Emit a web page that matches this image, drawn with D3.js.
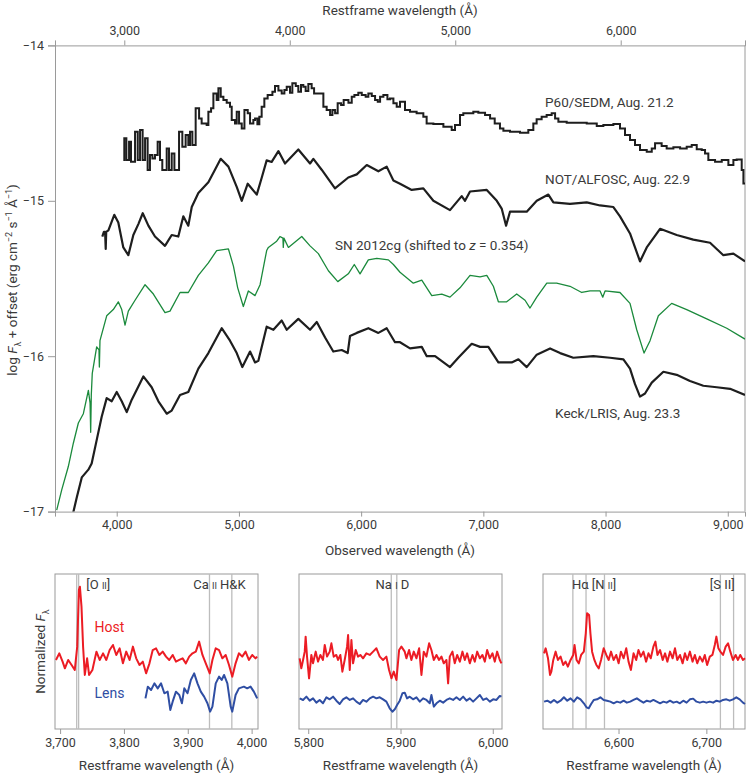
<!DOCTYPE html>
<html><head><meta charset="utf-8">
<script src="https://cdn.jsdelivr.net/npm/d3@7"></script>
<style>body{margin:0;background:#fff} text{font-family:Roboto,"Noto Sans",sans-serif;fill:#3a3a3a}</style>
</head><body><svg id="c" width="746" height="773"></svg>
<script>
// ---------- DATA ----------
const redshift = 0.354;
const obsTicks = [4000,5000,6000,7000,8000,9000];
const restTicks = [3000,4000,5000,6000];
const logTicks = [-17,-16,-15,-14];

const p60SEDM = [[4054,-14.738],[4062,-14.598],[4079,-14.738],[4101,-14.620],[4117,-14.749],[4150,-14.555],[4172,-14.738],[4191,-14.545],[4212,-14.738],[4232,-14.598],[4253,-14.802],[4272,-14.706],[4292,-14.727],[4313,-14.706],[4335,-14.620],[4354,-14.738],[4373,-14.802],[4409,-14.663],[4428,-14.802],[4450,-14.695],[4472,-14.802],[4510,-14.555],[4537,-14.652],[4564,-14.577],[4586,-14.641],[4600,-14.555],[4619,-14.641],[4646,-14.405],[4674,-14.470],[4695,-14.502],[4736,-14.512],[4750,-14.427],[4772,-14.405],[4791,-14.309],[4818,-14.352],[4832,-14.276],[4851,-14.330],[4873,-14.352],[4900,-14.369],[4927,-14.394],[4941,-14.480],[4968,-14.502],[4982,-14.427],[5001,-14.502],[5023,-14.534],[5045,-14.416],[5072,-14.437],[5091,-14.502],[5118,-14.480],[5132,-14.470],[5151,-14.508],[5167,-14.459],[5186,-14.394],[5208,-14.341],[5235,-14.319],[5274,-14.298],[5295,-14.261],[5323,-14.291],[5350,-14.309],[5372,-14.287],[5391,-14.266],[5418,-14.304],[5437,-14.244],[5465,-14.261],[5486,-14.298],[5508,-14.255],[5527,-14.266],[5546,-14.294],[5568,-14.249],[5595,-14.276],[5615,-14.309],[5691,-14.394],[5718,-14.416],[5746,-14.448],[5765,-14.416],[5787,-14.437],[5808,-14.373],[5836,-14.384],[5857,-14.352],[5896,-14.369],[5923,-14.330],[5945,-14.319],[5977,-14.304],[6005,-14.319],[6037,-14.330],[6059,-14.309],[6087,-14.326],[6114,-14.352],[6136,-14.362],[6155,-14.330],[6182,-14.319],[6215,-14.347],[6236,-14.341],[6264,-14.373],[6291,-14.394],[6318,-14.362],[6359,-14.416],[6400,-14.427],[6454,-14.437],[6509,-14.459],[6536,-14.502],[6591,-14.506],[6673,-14.523],[6741,-14.545],[6768,-14.512],[6809,-14.448],[6836,-14.437],[6877,-14.437],[6918,-14.427],[6959,-14.433],[7014,-14.448],[7055,-14.470],[7093,-14.502],[7136,-14.534],[7164,-14.549],[7218,-14.555],[7300,-14.562],[7368,-14.545],[7409,-14.502],[7436,-14.476],[7477,-14.459],[7518,-14.448],[7559,-14.437],[7587,-14.470],[7614,-14.491],[7682,-14.497],[7764,-14.497],[7846,-14.502],[7928,-14.519],[7982,-14.512],[8064,-14.506],[8118,-14.534],[8159,-14.577],[8200,-14.609],[8241,-14.641],[8282,-14.673],[8337,-14.684],[8378,-14.663],[8405,-14.630],[8459,-14.648],[8500,-14.663],[8555,-14.656],[8610,-14.663],[8664,-14.652],[8705,-14.641],[8746,-14.669],[8787,-14.673],[8814,-14.695],[8841,-14.738],[8896,-14.749],[8951,-14.738],[9005,-14.770],[9046,-14.738],[9073,-14.734],[9114,-14.802],[9128,-14.888],[9141,-14.888]];

const notALFOSC = [[3882,-15.23],[3895,-15.20],[3905,-15.20],[3910,-15.31],[3914,-15.20],[3932,-15.19],[3980,-15.09],[4013,-15.14],[4054,-15.30],[4095,-15.35],[4136,-15.22],[4177,-15.15],[4213,-15.08],[4259,-15.16],[4313,-15.23],[4395,-15.29],[4450,-15.22],[4504,-15.23],[4545,-15.10],[4586,-15.16],[4614,-15.04],[4668,-14.95],[4750,-14.88],[4804,-14.80],[4851,-14.73],[4914,-14.78],[4982,-14.91],[5023,-15.00],[5072,-14.89],[5146,-14.96],[5187,-14.85],[5227,-14.74],[5268,-14.75],[5323,-14.68],[5377,-14.76],[5486,-14.67],[5582,-14.76],[5609,-14.73],[5677,-14.80],[5786,-14.92],[5895,-14.85],[5964,-14.83],[6046,-14.77],[6141,-14.81],[6209,-14.78],[6264,-14.87],[6318,-14.89],[6414,-14.93],[6509,-14.92],[6591,-15.00],[6727,-15.06],[6823,-14.97],[6850,-15.00],[6891,-14.94],[7028,-14.93],[7110,-15.00],[7150,-15.05],[7186,-15.16],[7218,-15.07],[7355,-15.07],[7437,-15.00],[7532,-14.96],[7573,-15.01],[7709,-15.02],[7846,-15.01],[7955,-15.03],[8064,-15.04],[8118,-15.10],[8200,-15.21],[8282,-15.39],[8337,-15.30],[8446,-15.18],[8582,-15.22],[8718,-15.25],[8855,-15.27],[8964,-15.35],[9046,-15.34],[9141,-15.39]];

const sn2012cg = [[3509,-16.99],[3550,-16.86],[3604,-16.71],[3645,-16.56],[3686,-16.43],[3727,-16.37],[3768,-16.22],[3782,-16.30],[3787,-16.49],[3792,-16.25],[3800,-16.11],[3836,-15.94],[3855,-15.96],[3858,-16.07],[3863,-15.90],[3918,-15.74],[3972,-15.70],[4013,-15.65],[4041,-15.70],[4068,-15.80],[4095,-15.71],[4150,-15.64],[4232,-15.54],[4300,-15.60],[4395,-15.72],[4436,-15.71],[4518,-15.59],[4586,-15.59],[4668,-15.48],[4750,-15.40],[4818,-15.32],[4914,-15.31],[4955,-15.42],[4990,-15.56],[5036,-15.68],[5077,-15.58],[5132,-15.61],[5173,-15.54],[5227,-15.32],[5241,-15.30],[5309,-15.26],[5336,-15.23],[5360,-15.24],[5363,-15.30],[5368,-15.24],[5405,-15.30],[5514,-15.23],[5582,-15.29],[5650,-15.34],[5732,-15.45],[5809,-15.52],[5895,-15.47],[5944,-15.41],[5991,-15.47],[6059,-15.38],[6128,-15.37],[6223,-15.38],[6264,-15.41],[6318,-15.46],[6427,-15.53],[6496,-15.51],[6578,-15.61],[6660,-15.60],[6727,-15.62],[6809,-15.56],[6891,-15.48],[6973,-15.49],[7028,-15.48],[7082,-15.55],[7123,-15.65],[7191,-15.65],[7273,-15.60],[7341,-15.64],[7382,-15.69],[7437,-15.62],[7519,-15.53],[7600,-15.53],[7709,-15.55],[7805,-15.59],[7873,-15.58],[7955,-15.58],[7977,-15.62],[7996,-15.58],[8118,-15.59],[8200,-15.66],[8255,-15.83],[8315,-15.98],[8364,-15.90],[8432,-15.74],[8541,-15.66],[8664,-15.70],[8828,-15.76],[8992,-15.82],[9141,-15.89]];

const keckLRIS = [[3640,-17.02],[3673,-16.91],[3714,-16.78],[3768,-16.73],[3795,-16.69],[3836,-16.54],[3877,-16.39],[3918,-16.27],[3959,-16.29],[4000,-16.23],[4041,-16.29],[4082,-16.36],[4123,-16.28],[4218,-16.13],[4286,-16.20],[4341,-16.29],[4409,-16.37],[4450,-16.35],[4518,-16.25],[4586,-16.23],[4668,-16.08],[4750,-15.98],[4859,-15.82],[4927,-15.90],[4982,-15.98],[5028,-16.07],[5091,-15.97],[5132,-16.04],[5159,-16.03],[5227,-15.81],[5282,-15.83],[5350,-15.77],[5391,-15.83],[5486,-15.76],[5582,-15.83],[5637,-15.78],[5705,-15.88],[5772,-15.97],[5841,-15.96],[5890,-15.98],[5909,-15.87],[5964,-15.85],[6059,-15.82],[6141,-15.85],[6209,-15.82],[6277,-15.91],[6318,-15.91],[6400,-15.95],[6496,-15.94],[6537,-16.00],[6605,-16.00],[6727,-16.07],[6795,-16.01],[6905,-15.92],[6973,-15.94],[7041,-15.94],[7123,-16.04],[7232,-16.04],[7287,-16.02],[7355,-16.07],[7437,-15.99],[7546,-15.95],[7628,-15.98],[7736,-16.01],[7900,-16.00],[8037,-16.01],[8146,-16.02],[8200,-16.08],[8241,-16.18],[8282,-16.26],[8323,-16.24],[8378,-16.17],[8473,-16.10],[8582,-16.12],[8691,-16.16],[8800,-16.19],[8910,-16.20],[9019,-16.21],[9141,-16.25]];

// spectrum labels: [text, wavelength, logF]
const specLabels = [["P60/SEDM, Aug. 21.2",7505,-14.369],["NOT/ALFOSC, Aug. 22.9",7505,-14.862],["Keck/LRIS, Aug. 23.3",7587,-16.365]];

// bottom panels (restframe wavelength, normalized flux)
const hostOII = [[3693.5,0.980],[3698.7,1.074],[3703.9,0.956],[3707.5,0.861],[3712.7,0.980],[3718,0.909],[3723,0.838],[3726.8,1.169],[3729.4,1.973],[3731,2.020],[3733.5,1.737],[3736,1.169],[3738.7,0.767],[3742.3,1.003],[3745.4,0.767],[3750.6,0.838],[3756.9,1.098],[3762,0.980],[3767.3,1.074],[3772.4,0.980],[3777.6,1.121],[3782.8,1.193],[3788,1.051],[3793.2,1.145],[3798.4,0.932],[3803.6,1.098],[3808.8,0.980],[3814,1.169],[3819.2,1.003],[3824.4,0.909],[3829.6,0.956],[3834.7,0.790],[3840,0.932],[3845.1,1.121],[3850.3,1.145],[3855.5,1.051],[3860.7,1.098],[3865.9,1.027],[3871,0.980],[3876.3,1.051],[3881.5,0.956],[3886.7,0.980],[3891.9,1.003],[3897,0.932],[3902.2,1.027],[3907.4,1.074],[3912.6,1.098],[3917.8,1.240],[3923,1.051],[3928.2,0.932],[3934.4,0.790],[3938.6,0.980],[3943.8,1.145],[3949,1.121],[3954.2,1.003],[3959.4,1.051],[3964.6,0.909],[3969.7,0.743],[3974.9,0.932],[3980.1,1.074],[3985.3,1.027],[3990.5,1.098],[3995.7,0.980],[4000.9,1.051],[4006.1,1.003],[4008.7,1.027]];
const lensOII = [[3833.7,0.435],[3837.4,0.601],[3842.5,0.554],[3847.7,0.648],[3852.9,0.577],[3858.1,0.648],[3863.3,0.507],[3868.5,0.530],[3872.6,0.270],[3876.3,0.388],[3881.5,0.530],[3886.7,0.483],[3890.8,0.365],[3894.5,0.577],[3899.6,0.507],[3904.8,0.696],[3910,0.790],[3915.2,0.648],[3920.4,0.530],[3925.6,0.459],[3930.8,0.365],[3935,0.246],[3938.6,0.317],[3943.8,0.648],[3949,0.743],[3953.1,0.696],[3956.8,0.767],[3962,0.648],[3967.2,0.317],[3969.7,0.246],[3974.9,0.483],[3980.1,0.577],[3987.9,0.601],[3993.1,0.577],[3998.3,0.601],[4003.5,0.530],[4008.7,0.435]];
const hostNaD = [[5790.7,1.003],[5792.5,0.861],[5794.4,0.980],[5796.2,1.098],[5797.2,1.311],[5798.7,1.027],[5800.9,0.719],[5803.4,1.051],[5805.2,0.932],[5808.1,1.098],[5810.6,0.956],[5813.2,1.051],[5816,0.980],[5817.9,1.193],[5820.4,1.027],[5823.3,1.098],[5825.1,1.216],[5827.6,1.027],[5830.5,1.051],[5832.3,0.980],[5834.8,1.051],[5837,0.814],[5839.5,0.980],[5842.1,1.169],[5843.2,1.334],[5845,0.838],[5846.8,1.263],[5848.6,0.932],[5851.5,1.121],[5854,1.027],[5856.5,1.051],[5859.4,1.003],[5863,1.074],[5866.7,1.051],[5870.3,1.098],[5873.9,1.145],[5877.5,1.027],[5881.1,0.980],[5884.7,1.027],[5887.6,0.838],[5890.2,0.719],[5892.7,0.814],[5895.6,0.696],[5898.5,1.121],[5901,1.169],[5904.6,1.098],[5906.4,1.003],[5909.3,1.121],[5911.8,0.980],[5914.4,1.098],[5917.3,1.003],[5920.2,1.145],[5922.7,0.767],[5925.2,1.098],[5928.1,1.027],[5931,1.216],[5933.5,1.121],[5936.1,0.980],[5939,1.051],[5941.8,0.980],[5944.4,1.027],[5946.9,0.932],[5949.8,0.980],[5951.6,0.648],[5953.4,1.027],[5956.3,1.098],[5958.8,0.932],[5961.4,1.051],[5964.3,0.956],[5967.1,1.098],[5969.7,0.980],[5972.2,1.074],[5975.1,0.932],[5978,1.051],[5980.5,0.956],[5983.1,1.098],[5986,1.003],[5988.8,1.051],[5991.4,0.956],[5993.9,1.121],[5996.8,1.003],[5999.7,1.074],[6002.2,0.956],[6004.7,1.098],[6007.6,0.980],[6009.4,0.932]];
const lensNaD = [[5790.7,0.435],[5794.4,0.412],[5798,0.459],[5801.6,0.402],[5805.2,0.435],[5808.8,0.374],[5812.4,0.412],[5816,0.365],[5819.7,0.450],[5823.3,0.421],[5826.9,0.459],[5830.5,0.402],[5834.1,0.355],[5837.7,0.421],[5841.3,0.450],[5845,0.412],[5848.6,0.435],[5852.2,0.388],[5855.8,0.355],[5859.4,0.412],[5863,0.388],[5866.7,0.435],[5870.3,0.459],[5873.9,0.435],[5877.5,0.450],[5881.1,0.421],[5884.7,0.388],[5888.3,0.294],[5891.2,0.246],[5893.8,0.279],[5896.3,0.341],[5899.2,0.402],[5902.1,0.507],[5904.6,0.516],[5907.1,0.435],[5910,0.459],[5913.6,0.421],[5917.3,0.450],[5920.9,0.388],[5924.5,0.435],[5928.1,0.412],[5931.7,0.365],[5933.5,0.483],[5936.1,0.317],[5939,0.365],[5942.6,0.402],[5946.2,0.374],[5949.8,0.412],[5953.4,0.435],[5957,0.412],[5960.6,0.450],[5964.3,0.412],[5967.9,0.459],[5971.5,0.402],[5975.1,0.435],[5978.7,0.388],[5982.3,0.435],[5986,0.483],[5989.6,0.412],[5993.2,0.435],[5996.8,0.388],[6000.4,0.421],[6004,0.412],[6007.6,0.469],[6009.4,0.459]];
const hostHa = [[6515.2,1.074],[6517,1.145],[6519.7,1.003],[6522,0.767],[6523.5,0.814],[6525.7,0.980],[6528.4,1.098],[6531,0.980],[6534,1.027],[6537,0.909],[6539.7,0.956],[6542.3,0.885],[6545.4,0.980],[6548.4,1.051],[6549.9,1.193],[6552.2,0.980],[6554.8,0.932],[6557.4,1.051],[6560.5,1.098],[6562.7,1.358],[6564.2,1.642],[6566.5,1.618],[6568,1.358],[6569.9,1.098],[6572.5,0.980],[6574.8,0.909],[6577.5,0.861],[6580.1,0.980],[6583.1,1.145],[6586.1,1.051],[6588.8,0.980],[6591.4,1.098],[6594.4,0.980],[6597.4,1.051],[6600.1,0.932],[6602.7,1.098],[6605.8,1.003],[6608.8,1.145],[6611.4,0.956],[6614.1,0.838],[6617.1,1.074],[6620.1,0.980],[6622.7,1.121],[6625.4,1.027],[6628.4,1.098],[6631.4,0.956],[6634.1,1.074],[6636.7,1.003],[6639.7,1.169],[6642,1.240],[6644.3,1.051],[6647.3,1.121],[6650.3,0.980],[6653,1.074],[6655.6,0.956],[6658.6,1.098],[6661.6,1.003],[6664.3,1.145],[6666.9,0.980],[6670,1.051],[6673,0.932],[6675.6,1.074],[6678.2,0.980],[6681.3,1.098],[6684.3,0.956],[6686.9,1.051],[6689.6,0.932],[6692.6,1.027],[6695.6,0.956],[6698.2,1.051],[6700.9,0.909],[6703.9,1.027],[6706.9,1.051],[6709.6,1.193],[6711.4,1.311],[6713.7,1.145],[6716,1.098],[6719,1.051],[6722,1.169],[6724.7,1.216],[6727.3,1.098],[6730.3,0.980],[6733.3,1.051],[6736,0.980],[6738.6,1.051],[6741.7,0.980],[6744,1.003]];
const lensHa = [[6515.2,0.388],[6519,0.402],[6522.7,0.374],[6526.5,0.412],[6530.3,0.374],[6534,0.402],[6537.8,0.450],[6541.6,0.402],[6545.4,0.435],[6549.1,0.388],[6552.9,0.450],[6556.7,0.421],[6560.5,0.365],[6563.5,0.308],[6566.1,0.294],[6568.8,0.355],[6571.8,0.412],[6575.6,0.421],[6579.3,0.450],[6583.1,0.412],[6586.9,0.402],[6590.7,0.388],[6594.4,0.365],[6598.2,0.388],[6602,0.374],[6605.8,0.402],[6609.5,0.374],[6613.3,0.388],[6617.1,0.412],[6620.9,0.435],[6624.6,0.402],[6628.4,0.374],[6632.2,0.402],[6636,0.388],[6639.7,0.412],[6643.5,0.388],[6647.3,0.365],[6651.1,0.388],[6654.8,0.374],[6658.6,0.402],[6662.4,0.374],[6666.2,0.388],[6669.9,0.365],[6673.7,0.402],[6677.5,0.374],[6681.3,0.421],[6685,0.431],[6688.8,0.388],[6692.6,0.374],[6696.4,0.388],[6700.1,0.374],[6703.9,0.388],[6707.7,0.374],[6711.5,0.402],[6715.2,0.388],[6719,0.412],[6722.8,0.421],[6726.6,0.402],[6730.3,0.421],[6734.1,0.450],[6737.9,0.421],[6741.7,0.374],[6744,0.355]];

const linesOII = [3726, 3729, 3934, 3969];
const linesNaD = [5890, 5896];
const linesHa = [6548, 6563, 6584, 6716, 6731];
const ticksOII = [3700,3800,3900,4000];
const ticksNaD = [5800,5900,6000];
const ticksHa = [6600,6700];

// ---------- DRAW ----------
const svg = d3.select('#c');
const AX = '#9a9a9a';
const L = 55, R = 745, T = 45.4, B = 511.6;
const x = d3.scaleLinear().domain([3495, 9141]).range([L, R]);
const xr = d3.scaleLinear().domain([3495/(1+redshift), 9141/(1+redshift)]).range([L, R]);
const y = d3.scaleLinear().domain([-17, -14]).range([B, T]);
const fmt = d3.format(',');

function styleAxis(g){
  g.selectAll('.domain').attr('stroke', AX);
  g.selectAll('.tick line').attr('stroke', AX);
  g.selectAll('.tick text').attr('fill', '#3a3a3a').style('font-size','12.5px').style('font-family','Roboto,sans-serif');
}

svg.append('defs').append('clipPath').attr('id','clipMain')
  .append('rect').attr('x', L).attr('y', T).attr('width', R-L).attr('height', B-T);

// frame
svg.append('line').attr('x1',R).attr('x2',R).attr('y1',T).attr('y2',B).attr('stroke',AX);

svg.append('g').attr('transform',`translate(0,${B})`)
  .call(d3.axisBottom(x).tickValues(obsTicks).tickFormat(fmt).tickSize(5).tickPadding(4)).call(styleAxis);
svg.append('g').attr('transform',`translate(0,${T})`)
  .call(d3.axisTop(xr).tickValues(restTicks).tickFormat(fmt).tickSize(5).tickPadding(5)).call(styleAxis);
svg.append('g').attr('transform',`translate(${L},0)`)
  .call(d3.axisLeft(y).tickValues(logTicks).tickFormat(d3.format('d')).tickSize(7).tickPadding(4)).call(styleAxis);

svg.append('text').attr('x',(L+R)/2).attr('y',15).attr('text-anchor','middle').style('font-size','13.5px').text('Restframe wavelength (Å)');
svg.append('text').attr('x',(L+R)/2).attr('y',555).attr('text-anchor','middle').style('font-size','13.5px').text('Observed wavelength (Å)');

const yl = svg.append('text').attr('transform','translate(17,280) rotate(-90)').attr('text-anchor','middle').style('font-size','13.5px');
yl.append('tspan').text('log ');
yl.append('tspan').style('font-style','italic').text('F');
yl.append('tspan').attr('dy',4).style('font-size','9px').text('λ');
yl.append('tspan').attr('dy',-4).text(' + offset (erg cm');
yl.append('tspan').attr('dy',-5).style('font-size','9px').text('−2');
yl.append('tspan').attr('dy',5).text(' s');
yl.append('tspan').attr('dy',-5).style('font-size','9px').text('−1');
yl.append('tspan').attr('dy',5).text(' Å');
yl.append('tspan').attr('dy',-5).style('font-size','9px').text('−1');
yl.append('tspan').attr('dy',5).text(')');

const gS = svg.append('g').attr('clip-path','url(#clipMain)');
const line = d3.line().x(d=>x(d[0])).y(d=>y(d[1]));
gS.append('path').datum(p60SEDM).attr('d', line.curve(d3.curveStepAfter)).attr('fill','none').attr('stroke','#1e1e1e').attr('stroke-width',2);
const line2 = d3.line().x(d=>x(d[0])).y(d=>y(d[1]));
gS.append('path').datum(notALFOSC).attr('d', line2).attr('fill','none').attr('stroke','#1e1e1e').attr('stroke-width',2.2).attr('stroke-linejoin','round');
gS.append('path').datum(sn2012cg).attr('d', line2).attr('fill','none').attr('stroke','#1b8a3c').attr('stroke-width',1.3).attr('stroke-linejoin','round');
gS.append('path').datum(keckLRIS).attr('d', line2).attr('fill','none').attr('stroke','#1e1e1e').attr('stroke-width',2.2).attr('stroke-linejoin','round');

specLabels.forEach(([t,w,f])=>{
  svg.append('text').attr('x',x(w)).attr('y',y(f)).attr('dy','0.35em').style('font-size','13.5px').text(t);
});
const snl = svg.append('text').attr('x',x(5786)).attr('y',y(-15.285)).attr('dy','0.35em').style('font-size','13.5px');
snl.append('tspan').text('SN 2012cg (shifted to ');
snl.append('tspan').style('font-style','italic').text('z');
snl.append('tspan').text(' = ' + redshift + ')');

// ---------- BOTTOM PANELS ----------
const PT = 574, PB = 729;
const yp = d3.scaleLinear().domain([0, 2.2]).range([PB, PT]);
const panels = [
  {dom:[3692,4010], rng:[55,258], host:hostOII, lens:lensOII, lines:linesOII, ticks:ticksOII,
   labels:[{w:3741, parts:[['[O ',13],['II',9],[']',13]]},{w:3908.5, parts:[['Ca ',13],['II',9],[' H&K',13]]}]},
  {dom:[5790,6010], rng:[299,502], host:hostNaD, lens:lensNaD, lines:linesNaD, ticks:ticksNaD,
   labels:[{w:5873, parts:[['Na ',13],['I',9],[' D',13]]}]},
  {dom:[6514,6744], rng:[543,745], host:hostHa, lens:lensHa, lines:linesHa, ticks:ticksHa,
   labels:[{w:6547, parts:[['Hα [N ',13],['II',9],[']',13]]},{w:6704, parts:[['[S II]',13]]}]}
];
panels.forEach((p,i)=>{
  const xs = d3.scaleLinear().domain(p.dom).range(p.rng);
  const g = svg.append('g');
  g.append('rect').attr('x',p.rng[0]).attr('y',PT).attr('width',p.rng[1]-p.rng[0]).attr('height',PB-PT).attr('fill','none').attr('stroke',AX);
  g.selectAll('.ml').data(p.lines).join('line').attr('x1',d=>xs(d)).attr('x2',d=>xs(d)).attr('y1',PT).attr('y2',PB).attr('stroke','#bdbdbd').attr('stroke-width',1.3);
  g.append('g').attr('transform',`translate(0,${PB})`).call(d3.axisBottom(xs).tickValues(p.ticks).tickFormat(fmt).tickSize(5).tickPadding(4)).call(styleAxis)
   .call(a=>a.select('.domain').remove());
  const pl = d3.line().x(d=>xs(d[0])).y(d=>yp(d[1])).curve(d3.curveLinear);
  g.append('path').datum(p.host).attr('d',pl).attr('fill','none').attr('stroke','#ec1c24').attr('stroke-width',2).attr('stroke-linejoin','round');
  g.append('path').datum(p.lens).attr('d',pl).attr('fill','none').attr('stroke','#2f4ea3').attr('stroke-width',2).attr('stroke-linejoin','round');
  p.labels.forEach(lb=>{
    const t = g.append('text').attr('x',xs(lb.w)).attr('y',yp(2.072)).attr('dy','0.35em');
    lb.parts.forEach(([s,fs])=>t.append('tspan').style('font-size',fs+'px').text(s));
  });
  g.append('text').attr('x',(p.rng[0]+p.rng[1])/2).attr('y',770).attr('text-anchor','middle').style('font-size','13.5px').text('Restframe wavelength (Å)');
  if(i===0){
    g.append('text').attr('x',xs(3754)).attr('y',yp(1.448)).attr('dy','0.35em').style('font-size','14px').style('fill','#ec1c24').text('Host');
    g.append('text').attr('x',xs(3754)).attr('y',yp(0.511)).attr('dy','0.35em').style('font-size','14px').style('fill','#2f4ea3').text('Lens');
  }
});
const yl2 = svg.append('text').attr('transform',`translate(45,${(PT+PB)/2}) rotate(-90)`).attr('text-anchor','middle').style('font-size','13.5px');
yl2.append('tspan').text('Normalized ');
yl2.append('tspan').style('font-style','italic').text('F');
yl2.append('tspan').attr('dy',4).style('font-size','9px').text('λ');
</script></body></html>
